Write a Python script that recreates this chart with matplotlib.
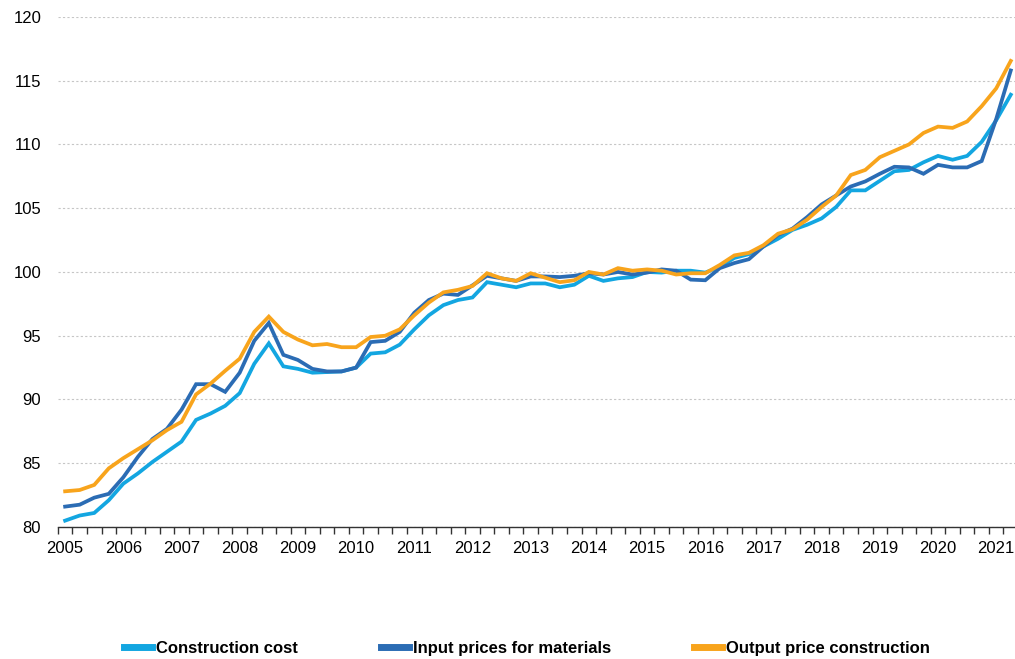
import numpy as np
import matplotlib
matplotlib.use("Agg")
import matplotlib.pyplot as plt

plt.rcParams['font.family'] = ['Liberation Sans', 'DejaVu Sans']

# Quarterly index values, 2005Q1 .. 2021Q2
years = list(range(2005, 2022))

construction_cost = [
    80.5, 80.9, 81.1, 82.1, 83.4, 84.2, 85.1, 85.9, 86.7, 88.4, 88.9, 89.5,
    90.5, 92.8, 94.4, 92.6, 92.4, 92.1, 92.15, 92.2, 92.5, 93.6, 93.7, 94.3,
    95.5, 96.6, 97.4, 97.8, 98.0, 99.2, 99.0, 98.8, 99.1, 99.1, 98.8, 99.0,
    99.7, 99.3, 99.5, 99.6, 100.0, 99.95, 100.1, 100.1, 99.95, 100.4, 101.1, 101.4,
    102.0, 102.6, 103.3, 103.7, 104.2, 105.1, 106.4, 106.4, 107.15, 107.9, 108.0, 108.6,
    109.1, 108.8, 109.1, 110.2, 111.9, 113.9,
]

input_prices = [
    81.6, 81.75, 82.3, 82.6, 83.9, 85.5, 86.9, 87.7, 89.2, 91.2, 91.2, 90.6,
    92.1, 94.6, 96.0, 93.5, 93.1, 92.4, 92.2, 92.2, 92.5, 94.5, 94.6, 95.3,
    96.8, 97.8, 98.3, 98.2, 98.95, 99.7, 99.5, 99.3, 99.65, 99.65, 99.6, 99.7,
    99.9, 99.8, 100.0, 99.8, 99.95, 100.2, 100.1, 99.4, 99.35, 100.3, 100.7, 101.0,
    102.0, 102.9, 103.4, 104.3, 105.3, 106.0, 106.7, 107.1, 107.7, 108.25, 108.2, 107.7,
    108.4, 108.2, 108.2, 108.7, 112.0, 115.8,
]

output_price = [
    82.8, 82.9, 83.3, 84.6, 85.4, 86.1, 86.8, 87.6, 88.25, 90.4, 91.25, 92.25,
    93.2, 95.3, 96.5, 95.3, 94.7, 94.25, 94.35, 94.1, 94.1, 94.9, 95.0, 95.5,
    96.6, 97.6, 98.4, 98.6, 98.9, 99.9, 99.5, 99.3, 99.9, 99.55, 99.2, 99.35,
    100.0, 99.8, 100.3, 100.1, 100.2, 100.1, 99.8, 99.9, 99.9, 100.55, 101.3, 101.5,
    102.1, 103.0, 103.35, 104.1, 105.1, 106.0, 107.6, 108.0, 109.0, 109.5, 110.0, 110.9,
    111.4, 111.3, 111.8, 113.0, 114.4, 116.55,
]

series = [
    ("Construction cost", construction_cost, "#13A6E1"),
    ("Input prices for materials", input_prices, "#2B6CB4"),
    ("Output price construction", output_price, "#F8A41C"),
]

fig = plt.figure(figsize=(10.15, 6.59), dpi=100)
ax = fig.add_axes([0.057, 0.2003, 0.946, 0.774])

x = np.arange(len(construction_cost))
for name, vals, col in series:
    ax.plot(x, vals, color=col, lw=2.7, label=name, solid_joinstyle='miter')

ax.set_xlim(-0.5, len(x) - 0.5)
ax.set_ylim(80, 120)
ax.set_yticks(range(80, 121, 5))
ax.grid(axis='y', color='#c6c6c6', linestyle=(0, (2, 2)), lw=0.8)
ax.set_axisbelow(True)

# year labels at first quarter, small ticks at quarter boundaries
ax.set_xticks(np.arange(0, len(x), 4))
ax.set_xticklabels([str(y) for y in years])
ax.set_xticks(np.arange(-0.5, len(x), 1), minor=True)
ax.tick_params(axis='x', which='major', length=0, pad=10, labelsize=12)
ax.tick_params(axis='x', which='minor', length=5, width=1, color='#333333', direction='out')
ax.tick_params(axis='y', length=0, pad=12, labelsize=12)

for s in ['top', 'right', 'left']:
    ax.spines[s].set_visible(False)
ax.spines['bottom'].set_color('#333333')
ax.spines['bottom'].set_linewidth(1)

leg = fig.legend(loc='center', bbox_to_anchor=(0.519, 0.016), ncol=3, frameon=False,
                 handlelength=1.7, handletextpad=0.2, columnspacing=5.0,
                 prop={'weight': 'bold', 'size': 12})
for line in leg.get_lines():
    line.set_linewidth(5)

fig.savefig("out.png", dpi=100)
